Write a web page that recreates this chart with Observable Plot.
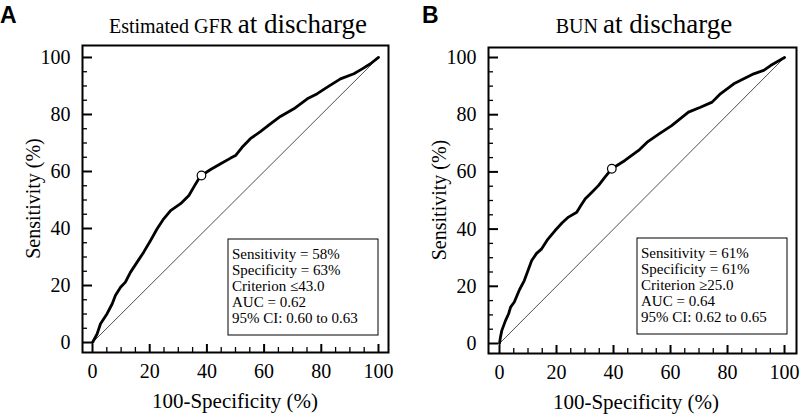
<!DOCTYPE html>
<html>
<head>
<meta charset="utf-8">
<script src="https://cdn.jsdelivr.net/npm/d3@7"></script>
<script src="https://cdn.jsdelivr.net/npm/@observablehq/plot@0.6"></script>
<style>
  html, body { margin: 0; padding: 0; background: #fff; }
  #wrap { display: flex; width: 801px; height: 414px; }
  svg { overflow: visible; }
</style>
</head>
<body>
<div id="wrap"></div>
<script>
// ---- data ----
const majorTicks = [0, 20, 40, 60, 80, 100];
const minorTicks = [5, 10, 15, 25, 30, 35, 45, 50, 55, 65, 70, 75, 85, 90, 95];
const diagonal = [0, 100];

const gfrFpr = [0, 1.6, 2.8, 5.1, 6.9, 8.0, 9.8, 11.5, 13.3, 15.6, 17.9, 20.3, 22.6, 24.9, 27.3, 30.8, 33.7, 35.5, 37.0, 38.1, 41.3, 44.8, 48.3, 50.0, 52.3, 55.2, 58.7, 62.2, 65.7, 70.4, 75.1, 78.6, 82.1, 86.7, 91.4, 94.3, 97.2, 100];
const gfrTpr = [0, 3.0, 6.6, 10.1, 13.6, 16.5, 19.4, 21.2, 24.7, 28.2, 31.7, 35.8, 39.9, 43.4, 46.3, 48.7, 51.6, 54.7, 57.2, 58.6, 60.7, 62.7, 64.7, 65.6, 68.5, 71.5, 74.0, 76.7, 79.3, 82.0, 85.5, 87.3, 89.6, 92.5, 94.3, 96.0, 97.8, 100];
const gfrCutoff = [38.1, 58.6];
const gfrTitle = ["Estimated GFR ", "at discharge"];
const gfrStats = ["Sensitivity = 58%", "Specificity = 63%", "Criterion \u226443.0", "AUC = 0.62", "95% CI: 0.60 to 0.63"];

const bunFpr = [0, 0.3, 0.8, 2.1, 3.2, 3.9, 5.2, 7.0, 8.7, 10.0, 11.3, 13.0, 14.8, 17.0, 19.5, 22.0, 24.2, 27.1, 28.6, 30.1, 32.5, 34.7, 37.0, 39.4, 44.0, 48.8, 51.8, 56.0, 60.4, 66.3, 70.5, 74.6, 77.5, 82.2, 89.2, 92.7, 95.1, 100];
const bunTpr = [0, 2.0, 4.5, 8.0, 10.4, 12.7, 14.5, 18.8, 22.0, 25.5, 29.0, 31.5, 33.1, 36.5, 39.5, 42.2, 44.2, 45.9, 48.3, 50.6, 53.0, 55.2, 58.2, 61.1, 64.0, 67.5, 70.4, 73.3, 76.2, 80.9, 82.6, 84.4, 87.3, 90.8, 94.3, 95.5, 97.2, 100];
const bunCutoff = [39.4, 61.1];
const bunTitle = ["BUN ", "at discharge"];
const bunStats = ["Sensitivity = 61%", "Specificity = 61%", "Criterion \u226525.0", "AUC = 0.64", "95% CI: 0.62 to 0.65"];

const xLabel = "100-Specificity (%)";
const yLabel = "Sensitivity (%)";

const SERIF = "'Liberation Serif', 'Times New Roman', serif";

// ---- drawing ----
function panel(cfg) {
  const pts = cfg.fpr.map((x, i) => ({x, y: cfg.tpr[i]}));
  const deco = (index, scales, values, dim) => {
    const L = dim.marginLeft, R = dim.width - dim.marginRight;
    const T = dim.marginTop, B = dim.height - dim.marginBottom;
    const g = d3.create("svg:g").attr("font-family", SERIF).attr("text-anchor", "start");
    // panel letter
    g.append("text").attr("x", L + cfg.letterDx).attr("y", 23).attr("text-anchor", "start")
      .attr("font-family", "'Liberation Sans', Arial, sans-serif").attr("font-weight", "bold")
      .attr("font-size", 23).attr("fill", "#000").text(cfg.letter);
    // title
    const t = g.append("text").attr("x", (L + R) / 2 + cfg.titleDx).attr("y", 33)
      .attr("text-anchor", "middle").attr("fill", "#000");
    t.append("tspan").attr("font-size", 20).text(cfg.title[0]);
    t.append("tspan").attr("font-size", 27).text(cfg.title[1]);
    // axis labels
    g.append("text").attr("x", (L + R) / 2 + cfg.xLabelDx).attr("y", B + 56)
      .attr("text-anchor", "middle").attr("font-size", 21).attr("fill", "#000").text(xLabel);
    g.append("text").attr("transform", `translate(${L - 42},${(T + B) / 2}) rotate(-90)`)
      .attr("text-anchor", "middle").attr("font-size", 20).attr("fill", "#000").text(yLabel);
    // legend box
    const bx = R - cfg.boxRight - 150, by = B - cfg.boxBottom - 96;
    g.append("rect").attr("x", bx).attr("y", by).attr("width", 150).attr("height", 96)
      .attr("fill", "#fff").attr("stroke", "#000").attr("stroke-width", 1);
    cfg.stats.forEach((s, i) => {
      g.append("text").attr("x", bx + 4).attr("y", by + 96 - 12.5 - (cfg.stats.length - 1 - i) * 16)
        .attr("text-anchor", "start").attr("font-size", 15).attr("fill", "#000").text(s);
    });
    return g.node();
  };
  return Plot.plot({
    width: cfg.width, height: 414,
    marginLeft: cfg.ml, marginRight: cfg.mr, marginTop: cfg.mt, marginBottom: cfg.mb,
    style: {fontFamily: SERIF, color: "#000", background: "#fff"},
    x: {domain: cfg.xd, label: null},
    y: {domain: cfg.yd, label: null},
    marks: [
      Plot.line(diagonal, {x: d => d, y: d => d, stroke: "#222", strokeWidth: 0.8}),
      Plot.line(pts, {x: "x", y: "y", stroke: "#000", strokeWidth: 2.8, strokeLinejoin: "round", strokeLinecap: "round"}),
      Plot.dot([cfg.cut], {x: d => d[0], y: d => d[1], r: 4.3, fill: "#fff", stroke: "#000", strokeWidth: 1.2}),
      deco,
      Plot.axisY(majorTicks, {tickSize: 10, insetLeft: 10, tickFormat: () => "", strokeWidth: 2, label: null}),
      Plot.axisY(minorTicks, {tickSize: 5, insetLeft: 5, tickFormat: () => "", strokeWidth: 1.3, label: null}),
      Plot.axisY(majorTicks, {tickSize: 0, tickPadding: 12, fontSize: 20, fontFamily: SERIF, label: null}),
      Plot.axisX(majorTicks, {tickSize: 8, insetBottom: 8, tickFormat: () => "", strokeWidth: 2, label: null}),
      Plot.axisX(minorTicks, {tickSize: 5, insetBottom: 5, tickFormat: () => "", strokeWidth: 1.3, label: null}),
      Plot.axisX(majorTicks, {tickSize: 0, tickPadding: 11, fontSize: 20, fontFamily: SERIF, label: null}),
      Plot.frame({stroke: "#000", strokeWidth: 2})
    ]
  });
}

const wrap = document.getElementById("wrap");
wrap.appendChild(panel({
  width: 400, ml: 82, mr: 12, mt: 45, mb: 62, xd: [-3.5, 103.5], yd: [-3.5, 104.2],
  fpr: gfrFpr, tpr: gfrTpr, cut: gfrCutoff, title: gfrTitle, stats: gfrStats,
  letter: "A", letterDx: -82, titleDx: 3, xLabelDx: 0, boxRight: 10, boxBottom: 17
}));
wrap.appendChild(panel({
  width: 401, ml: 88, mr: 5, mt: 47, mb: 61, xd: [-3.86, 104.2], yd: [-3.5, 103.5],
  fpr: bunFpr, tpr: bunTpr, cut: bunCutoff, title: bunTitle, stats: bunStats,
  letter: "B", letterDx: -66, titleDx: 2, xLabelDx: -6, boxRight: 9, boxBottom: 19
}));
</script>
</body>
</html>
